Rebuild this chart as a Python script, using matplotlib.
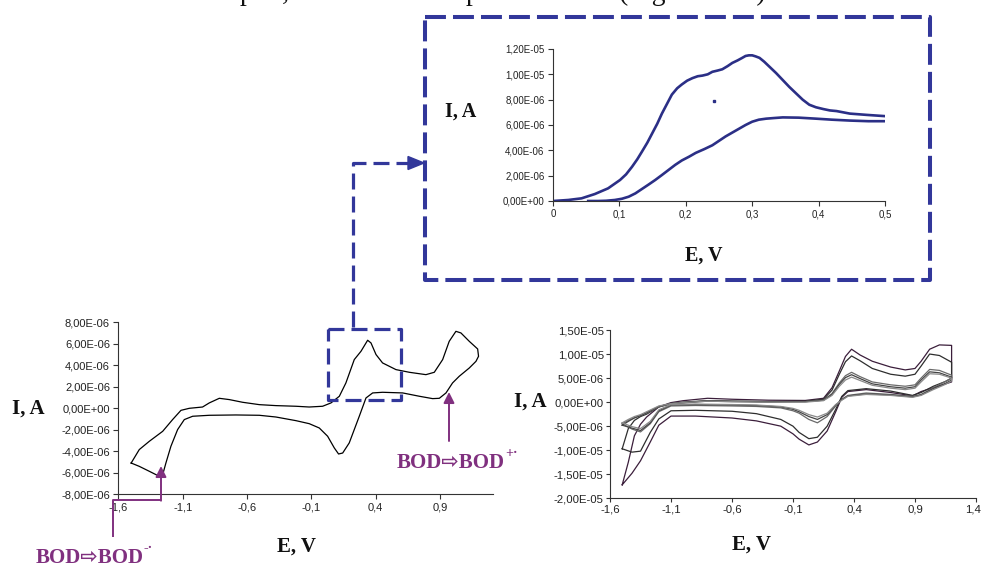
import matplotlib
matplotlib.use('Agg')
import matplotlib.pyplot as plt
from matplotlib.ticker import FuncFormatter, FixedLocator
from matplotlib.patches import Polygon
from matplotlib.transforms import ScaledTranslation
import numpy as np

plt.rcParams['font.family'] = ['Liberation Sans', 'DejaVu Sans']

# ---------------- DATA ----------------
# Inset (zoom 0..0.5 V), current in microampere
inset_up_E = [0.0, 0.023, 0.043, 0.063, 0.083, 0.101, 0.110, 0.119, 0.127, 0.134, 0.142, 0.149,
              0.157, 0.164, 0.172, 0.179, 0.187, 0.194, 0.202, 0.210, 0.218, 0.225, 0.233,
              0.240, 0.248, 0.255, 0.263, 0.270, 0.278, 0.285, 0.290, 0.295, 0.300, 0.305,
              0.311, 0.318, 0.326, 0.336, 0.346, 0.356, 0.366, 0.376, 0.386, 0.396, 0.407,
              0.417, 0.427, 0.447, 0.472, 0.500]
inset_up_I = [0.0, 0.08, 0.21, 0.55, 1.0, 1.66, 2.1, 2.7, 3.3, 3.9, 4.6, 5.3,
              6.1, 6.9, 7.7, 8.4, 8.9, 9.2, 9.5, 9.7, 9.85, 9.9, 10.0,
              10.2, 10.3, 10.4, 10.65, 10.9, 11.1, 11.3, 11.45, 11.5, 11.5, 11.42,
              11.3, 11.0, 10.6, 10.1, 9.55, 9.0, 8.5, 8.0, 7.6, 7.4, 7.26,
              7.15, 7.1, 6.9, 6.8, 6.7]
inset_lo_E = [0.053, 0.068, 0.080, 0.093, 0.104, 0.114, 0.124, 0.134, 0.144, 0.154, 0.164,
              0.174, 0.184, 0.194, 0.205, 0.215, 0.228, 0.240, 0.250, 0.260, 0.270,
              0.280, 0.290, 0.300, 0.310, 0.321, 0.333, 0.346, 0.370, 0.396, 0.420, 0.447,
              0.475, 0.500]
inset_lo_I = [0.0, 0.0, 0.02, 0.08, 0.18, 0.34, 0.6, 0.95, 1.3, 1.66, 2.05,
              2.45, 2.85, 3.2, 3.5, 3.8, 4.1, 4.4, 4.75, 5.1, 5.4,
              5.7, 6.0, 6.26, 6.42, 6.5, 6.55, 6.6, 6.58, 6.5, 6.42, 6.35,
              6.3, 6.3]
inset_dot = (0.243, 7.9)

# Lower-left single CV loop
cvL_E = [-1.50, -1.437, -1.359, -1.255, -1.178, -1.113, -1.048, -0.945, -0.893, -0.815, -0.737,
         -0.634, -0.504, -0.375, -0.219, -0.116, -0.012, 0.053, 0.118, 0.169, 0.234, 0.286,
         0.338, 0.364, 0.403, 0.454, 0.558, 0.662, 0.791, 0.856, 0.921, 0.972, 1.024, 1.063,
         1.128, 1.193, 1.200,
         1.180, 1.128, 1.050, 0.998, 0.947, 0.895, 0.843, 0.740, 0.610, 0.454, 0.377, 0.325,
         0.273, 0.195, 0.144, 0.112, 0.079, 0.027, -0.038, -0.116, -0.219, -0.375, -0.504,
         -0.686, -0.893, -1.022, -1.087, -1.139, -1.191, -1.230, -1.255, -1.281, -1.359,
         -1.437, -1.50]
cvL_I = [-5.09, -3.84, -3.07, -2.14, -1.05, -0.19, 0.0, 0.12, 0.50, 0.93, 0.81,
         0.56, 0.34, 0.25, 0.19, 0.12, 0.19, 0.50, 1.12, 2.36, 4.53, 5.30,
         6.33, 6.08, 5.0, 4.22, 3.60, 3.35, 3.13, 3.35, 4.53, 6.23, 7.16, 7.01,
         6.23, 5.52, 4.84,
         4.37, 3.75, 2.98, 2.36, 1.43, 0.93, 0.90, 1.12, 1.43, 1.49, 1.43, 0.96,
         -0.74, -3.22, -4.16, -4.25, -3.69, -2.60, -1.83, -1.43, -1.15, -0.81, -0.65,
         -0.62, -0.65, -0.74, -1.05, -1.98, -3.53, -5.09, -6.17, -6.33, -5.86,
         -5.40, -5.09]

# Lower-right: repeated CV cycles (shared potentials, currents per cycle)
cvR_E_fwd = [-1.5, -1.45, -1.4, -1.35, -1.3, -1.2, -1.1, -1.0, -0.8, -0.6, -0.3, 0.0, 0.15,
             0.22, 0.28, 0.33, 0.38, 0.45, 0.55, 0.7, 0.82, 0.9, 0.95, 1.02, 1.1, 1.2]
cvR_E_rev = [1.2, 1.15, 1.05, 0.95, 0.88, 0.7, 0.5, 0.35, 0.3, 0.25, 0.18, 0.1, 0.03, -0.05,
             -0.1, -0.2, -0.4, -0.6, -0.9, -1.1, -1.2, -1.27, -1.35, -1.42, -1.5]
cyc1_fwd = [-17.2, -12.5, -7.0, -4.6, -3.1, -1.0, -0.1, 0.3, 0.8, 0.6, 0.4, 0.35, 0.8,
            3.0, 6.5, 9.5, 11.0, 9.8, 8.5, 7.3, 6.7, 7.0, 8.5, 11.0, 11.9, 11.8]
cyc1_rev = [4.2, 3.8, 3.0, 2.2, 1.3, 2.0, 2.6, 2.2, 1.0, -2.0, -6.0, -8.3, -8.9, -7.7,
            -6.6, -5.0, -3.9, -3.3, -2.9, -2.9, -4.8, -8.3, -12.2, -14.8, -17.2]
cyc2_fwd = [-9.7, -5.5, -3.8, -3.0, -2.5, -1.0, -0.3, 0.0, 0.3, 0.2, 0.1, 0.2, 0.6,
            2.5, 5.8, 8.4, 9.6, 8.6, 7.0, 5.8, 5.4, 5.8, 7.5, 10.0, 9.7, 8.3]
cyc2_rev = [5.0, 4.3, 3.3, 2.0, 1.4, 2.3, 2.8, 2.4, 1.2, -1.5, -5.0, -7.3, -7.6, -6.3,
            -5.0, -3.6, -2.4, -1.9, -1.7, -1.8, -3.5, -6.3, -10.2, -10.4, -9.7]
cyc3_fwd = [-4.5, -3.8, -3.2, -2.8, -2.3, -1.0, -0.4, -0.2, 0.2, 0.1, 0.0, 0.1, 0.4,
            1.8, 4.0, 5.5, 6.2, 5.3, 4.2, 3.6, 3.3, 3.6, 5.0, 6.8, 6.6, 5.6]
cyc3_rev = [5.0, 4.3, 3.0, 1.6, 1.2, 1.6, 1.9, 1.4, 0.6, -0.8, -3.0, -4.3, -3.6, -2.3,
            -1.8, -1.2, -0.9, -0.8, -0.7, -0.8, -2.0, -4.5, -6.2, -5.6, -4.5]
cyc4_fwd = [-4.8, -4.0, -3.3, -2.8, -2.2, -0.9, -0.3, -0.1, 0.3, 0.2, 0.1, 0.1, 0.4,
            1.6, 3.7, 5.1, 5.7, 4.9, 3.8, 3.2, 2.9, 3.2, 4.6, 6.3, 6.1, 5.2]
cyc4_rev = [4.6, 3.9, 2.8, 1.5, 1.1, 1.5, 1.7, 1.3, 0.5, -0.6, -2.6, -3.6, -3.0, -2.0,
            -1.5, -1.0, -0.7, -0.6, -0.5, -0.6, -1.8, -4.3, -5.9, -5.4, -4.8]
cyc5_fwd = [-4.3, -3.6, -3.0, -2.6, -2.0, -0.8, -0.3, -0.1, 0.2, 0.1, 0.0, 0.0, 0.3,
            1.4, 3.3, 4.6, 5.2, 4.5, 3.5, 2.9, 2.6, 2.9, 4.2, 5.9, 5.8, 5.0]
cyc5_rev = [4.4, 3.7, 2.6, 1.4, 1.0, 1.4, 1.6, 1.2, 0.4, -0.5, -2.3, -3.1, -2.6, -1.7,
            -1.3, -0.9, -0.6, -0.5, -0.4, -0.5, -1.6, -4.0, -5.5, -5.1, -4.3]
cycles_R = [(cyc1_fwd, cyc1_rev), (cyc2_fwd, cyc2_rev), (cyc3_fwd, cyc3_rev),
            (cyc4_fwd, cyc4_rev), (cyc5_fwd, cyc5_rev)]
cycle_colors = ['#3b1e3b', '#2e2e2e', '#6a6a6a', '#444444', '#8a8a8a']

# ticks
inset_xticks = [0, 0.1, 0.2, 0.3, 0.4, 0.5]
inset_yticks = [0, 2e-6, 4e-6, 6e-6, 8e-6, 1e-5, 1.2e-5]
left_xticks = [-1.6, -1.1, -0.6, -0.1, 0.4, 0.9]
left_yticks = [-8e-6, -6e-6, -4e-6, -2e-6, 0, 2e-6, 4e-6, 6e-6, 8e-6]
right_xticks = [-1.6, -1.1, -0.6, -0.1, 0.4, 0.9, 1.4]
right_yticks = [-2e-5, -1.5e-5, -1e-5, -5e-6, 0, 5e-6, 1e-5, 1.5e-5]

label_I = "I, A"
label_E = "E, V"
ox_text = "BOD\u21e8BOD"
ox_sup = "+\u00b7"
red_sup = "-\u00b7"

# ---------------- FIGURE ----------------
W, H = 982, 567
fig = plt.figure(figsize=(W / 100, H / 100), dpi=100)

def px_rect(x0, y0, x1, y1):
    return [x0 / W, 1 - y1 / H, (x1 - x0) / W, (y1 - y0) / H]

def sci_fmt(v, pos):
    return f"{v:.2E}".replace('.', ',')

def e_fmt(v, pos):
    if abs(v) < 1e-9:
        return "0"
    return f"{v:.1f}".replace('.', ',')

def style_axes(ax, xt, yt, fs, pad=2.5, length=3.5):
    for s in ['top', 'right']:
        ax.spines[s].set_visible(False)
    for s in ['left', 'bottom']:
        ax.spines[s].set_color('#333333')
        ax.spines[s].set_linewidth(0.8)
    ax.xaxis.set_major_locator(FixedLocator(xt))
    ax.yaxis.set_major_locator(FixedLocator(yt))
    ax.xaxis.set_major_formatter(FuncFormatter(e_fmt))
    ax.yaxis.set_major_formatter(FuncFormatter(sci_fmt))
    ax.tick_params(direction='out', length=length, width=0.8, colors='#333333',
                   labelsize=fs, labelcolor='#222222', pad=pad)
    ax.patch.set_alpha(0)

uA = 1e-6
blue = '#32379a'
purple = '#80307f'

# Inset
ax_in = fig.add_axes(px_rect(553, 49, 885, 201))
ax_in.plot(inset_up_E, np.array(inset_up_I) * uA, color='#2b2f86', lw=1.9)
ax_in.plot(inset_lo_E, np.array(inset_lo_I) * uA, color='#2b2f86', lw=1.9)
ax_in.plot([inset_dot[0]], [inset_dot[1] * uA], marker='s', ms=1.5, color='#2b2f86')
ax_in.set_xlim(0, 0.5)
ax_in.set_ylim(0, 1.2e-5)
style_axes(ax_in, inset_xticks, inset_yticks, 7)

# Lower-left
ax_l = fig.add_axes(px_rect(118.3, 322.3, 492.7, 494.3))
ax_l.plot(cvL_E, np.array(cvL_I) * uA, color='black', lw=0.9)
ax_l.set_xlim(-1.6, 1.31)
ax_l.set_ylim(-8e-6, 8e-6)
style_axes(ax_l, left_xticks, left_yticks, 8)

# Lower-right
ax_r = fig.add_axes(px_rect(610, 330, 976, 498.3))
for (fw, rv), c in zip(cycles_R, cycle_colors):
    E = list(cvR_E_fwd) + list(cvR_E_rev)
    I = np.array(list(fw) + list(rv)) * uA
    ax_r.plot(E, I, color=c, lw=0.9)
ax_r.set_xlim(-1.6, 1.4)
ax_r.set_ylim(-2e-5, 1.5e-5)
style_axes(ax_r, right_xticks, right_yticks, 8.2, pad=1.5, length=3)
# keep the last x tick label inside the canvas
last_tick = ax_r.xaxis.get_major_ticks()[-1]
last_tick.label1.set_transform(last_tick.label1.get_transform() +
                               ScaledTranslation(-3 / 100, 0, fig.dpi_scale_trans))

# ---------------- OVERLAY (pixel coordinates) ----------------
ov = fig.add_axes([0, 0, 1, 1])
ov.set_xlim(0, W)
ov.set_ylim(H, 0)
ov.axis('off')
ov.patch.set_visible(False)

serif = ['Liberation Serif', 'DejaVu Serif']
# axis titles
for (x, y, s, fs) in [(461, 112, label_I, 14.5), (704, 256, label_E, 14.5),
                      (28, 409, label_I, 15), (297, 547, label_E, 15),
                      (530, 402, label_I, 15), (752, 545, label_E, 15)]:
    ov.text(x, y, s, ha='center', va='center', fontsize=fs, fontweight='bold',
            family=serif, color='#111111')

# clipped line of running text at top of page
for (x, s, ha) in [(240, "part,", 'left'), (466, "peak", 'left'), (619, "(Figure 4.10)", 'left')]:
    ov.text(x, 0.5, s, ha=ha, va='baseline', fontsize=20, family=serif, color='#111111',
            clip_on=False)

# dashed boxes and connector
dash_big = (0, (5.2, 1.75))
ov.plot([425, 930, 930, 425, 425], [17, 17, 280, 280, 17], color=blue, lw=2.9,
        linestyle=dash_big, dash_capstyle='butt', clip_on=False)
ov.plot([328.5, 401.5, 401.5, 328.5, 328.5], [329, 329, 400, 400, 329], color=blue, lw=2.3,
        linestyle=(0, (5.0, 2.2)), dash_capstyle='butt', clip_on=False)
ov.plot([353, 353, 411], [327, 163, 163], color=blue, lw=2.3,
        linestyle=(0, (5.0, 2.2)), dash_capstyle='butt', clip_on=False)
ov.add_patch(Polygon([[424, 163], [408, 156.5], [408, 169.5]], closed=True,
                     color=blue, clip_on=False))

# purple annotations
ov.annotate('', xy=(449, 392), xytext=(449, 441),
            arrowprops=dict(arrowstyle='-|>', color=purple, lw=1.4,
                            mutation_scale=16, shrinkA=0, shrinkB=0))
ov.plot([112.7, 112.7, 161], [537, 500, 500], color=purple, lw=1.4, solid_capstyle='butt')
ov.annotate('', xy=(161, 466), xytext=(161, 500.7),
            arrowprops=dict(arrowstyle='-|>', color=purple, lw=1.4,
                            mutation_scale=16, shrinkA=0, shrinkB=0))

lab_font = ['Liberation Serif', 'DejaVu Sans']
t1 = ov.text(397, 463, ox_text, ha='left', va='center', fontsize=15, fontweight='bold',
             family=lab_font, color=purple)
t2 = ov.text(36, 558, ox_text, ha='left', va='center', fontsize=15, fontweight='bold',
             family=lab_font, color=purple)
ov.annotate(ox_sup, xy=(1.0, 0.95), xycoords=t1, ha='left', va='center', fontsize=10,
            fontweight='bold', family=lab_font, color=purple)
ov.annotate(red_sup, xy=(1.0, 0.95), xycoords=t2, ha='left', va='center', fontsize=10,
            fontweight='bold', family=lab_font, color=purple)

fig.savefig('out.png', dpi=100)
